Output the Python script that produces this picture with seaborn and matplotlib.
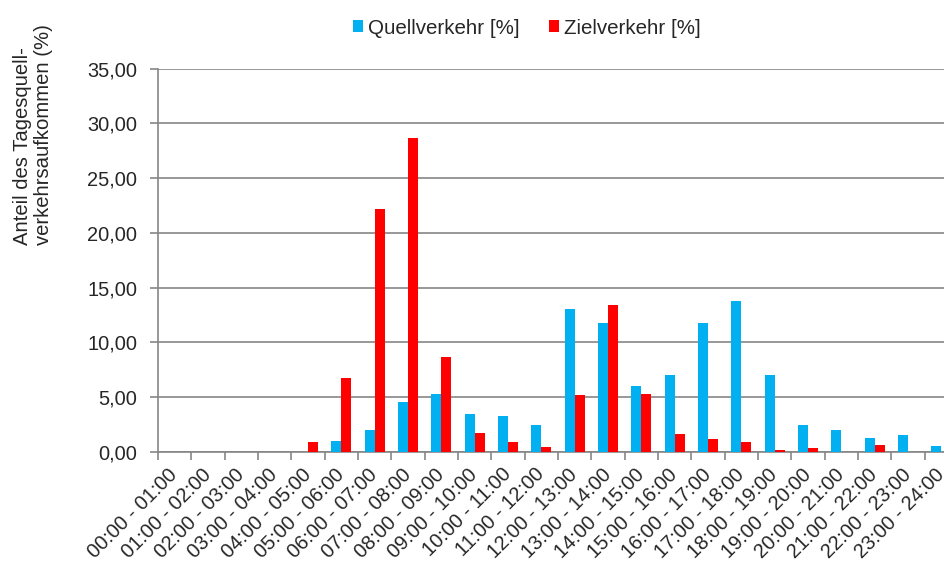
import matplotlib
matplotlib.use("Agg")
import matplotlib.pyplot as plt
from matplotlib.patches import Patch
from matplotlib.ticker import FixedLocator, FuncFormatter
import numpy as np
import pandas as pd
import seaborn as sns

# Hourly share of daily traffic volume
hours = [f"{h:02d}:00 - {h + 1:02d}:00" for h in range(24)]
quellverkehr = [0.0, 0.0, 0.0, 0.0, 0.0, 1.05, 2.0, 4.52, 5.27, 3.51, 3.26, 2.5,
                13.02, 11.76, 6.03, 7.01, 11.76, 13.77, 7.01, 2.5, 1.98, 1.25, 1.53, 0.55]
zielverkehr = [0.0, 0.0, 0.0, 0.0, 0.95, 6.75, 22.18, 28.67, 8.72, 1.7, 0.95, 0.43,
               5.16, 13.38, 5.34, 1.68, 1.19, 0.95, 0.18, 0.34, 0.0, 0.68, 0.0, 0.0]
series_names = ["Quellverkehr [%]", "Zielverkehr [%]"]
series_colors = ["#00B0F0", "#FF0000"]
y_ticks = [0, 5, 10, 15, 20, 25, 30, 35]

df = pd.DataFrame({
    "Zeit": hours * 2,
    "Anteil": quellverkehr + zielverkehr,
    "Reihe": [series_names[0]] * 24 + [series_names[1]] * 24,
})

sns.set_style("white")
plt.rcParams["font.family"] = ["Liberation Sans", "DejaVu Sans"]

grid_color = "#868686"
fig = plt.figure(figsize=(9.44, 5.63), dpi=100)
ax = fig.add_axes([158 / 944, 1 - 452 / 563, 800 / 944, (452 - 68.7) / 563])

sns.barplot(data=df, x="Zeit", y="Anteil", hue="Reihe", order=hours,
            hue_order=series_names, palette=series_colors, width=0.6,
            saturation=1, legend=False, ax=ax, zorder=3, linewidth=0)

ax.set_xlim(-0.5, 23.5)
ax.set_ylim(0, 35)
ax.set_yticks(y_ticks)
ax.yaxis.set_major_formatter(FuncFormatter(lambda v, _: f"{v:.2f}".replace(".", ",")))
ax.grid(axis="y", color=grid_color, linewidth=1.2, zorder=0)
ax.set_axisbelow(True)

for side in ("top", "right"):
    ax.spines[side].set_visible(False)
for side in ("left", "bottom"):
    ax.spines[side].set_color(grid_color)
    ax.spines[side].set_linewidth(1.2)

# Category labels centred on bars, tick marks between categories
ax.set_xticks(range(24))
ax.set_xticklabels(hours, rotation=45, ha="right", va="center",
                   rotation_mode="anchor", fontsize=14.4)
ax.xaxis.set_minor_locator(FixedLocator(np.arange(-0.5, 24.0, 1.0)))
ax.tick_params(axis="x", which="major", length=0, pad=14)
ax.tick_params(axis="x", which="minor", length=6, width=1.2, color=grid_color,
               direction="out", bottom=True)
ax.tick_params(axis="y", which="major", length=6, width=1.2, color=grid_color,
               direction="out", left=True, labelsize=14.4, pad=9)
ax.set_xlabel("")
ax.set_ylabel("")

fig.text(13 / 944, 1 - 245 / 563, "Anteil des Tagesquell-\nverkehrsaufkommen (%)",
         rotation=90, ha="left", va="bottom", fontsize=14.6, linespacing=1.12,
         multialignment="left")

handles = [Patch(facecolor=c, edgecolor="none") for c in series_colors]
fig.legend(handles, series_names, loc="center", bbox_to_anchor=(527 / 944, 1 - 28 / 563),
           ncol=2, frameon=False, fontsize=14.8, handlelength=0.5, handleheight=0.5,
           handletextpad=0.25, columnspacing=1.4)

fig.savefig("out.png", dpi=100)
